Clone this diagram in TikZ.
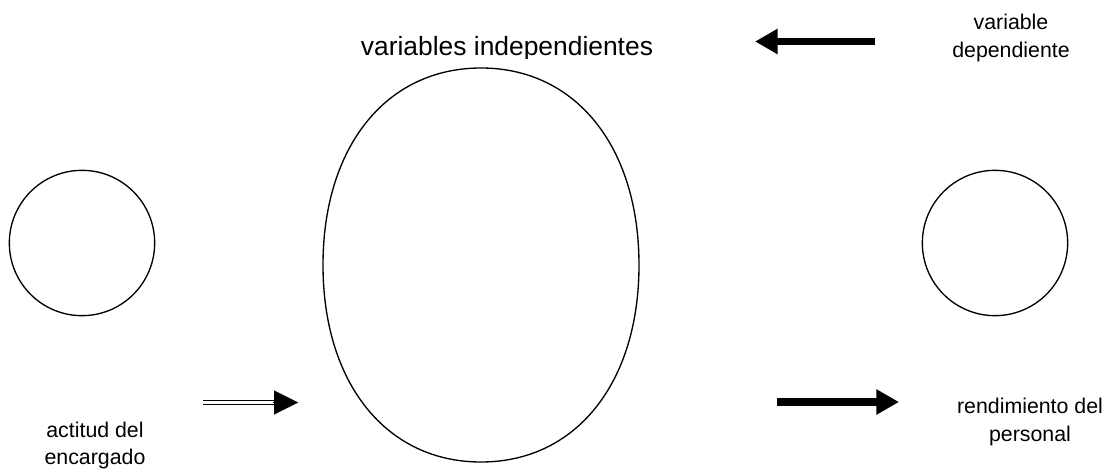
\documentclass[tikz,border=0pt]{standalone}
\usepackage{fontspec}
\setmainfont{Liberation Sans}
\usetikzlibrary{arrows.meta,shapes.geometric}
\begin{document}
\begin{tikzpicture}[x=0.75pt,y=-0.75pt,
  shape line/.style={draw=black,line width=1pt,inner sep=0pt},
  lbl/.style={anchor=base,inner sep=0pt,font=\fontsize{16}{19}\selectfont},
  thick arrow/.style={line width=5.8pt,-{Triangle[length=17pt,width=18pt]}},
  ]
\useasboundingbox (0,0) rectangle (1110,471);
% title (clipped at bottom like the reference)
\begin{scope}
\clip (0,0) rectangle (1110,58);
\node[anchor=base,inner sep=0pt,font=\fontsize{19.8}{23}\selectfont] (title) at (507,55) {variables independientes};
\end{scope}
% big oval (slightly fuller than a true ellipse)
\coordinate (bL) at (323,265);
\coordinate (bT) at (481,68);
\coordinate (bR) at (639,265);
\coordinate (bB) at (481,462);
\draw[line width=1pt] (bL) .. controls (323,147) and (386,68) .. (bT)
  .. controls (576,68) and (639,147) .. (bR)
  .. controls (639,383) and (576,462) .. (bB)
  .. controls (386,462) and (323,383) .. cycle;
% small circles
\node[shape line,circle,minimum size=109pt] (left) at (82,243) {};
\node[shape line,circle,minimum size=109pt] (right) at (995,243) {};
% labels
\node[lbl] (v1) at (1011,29) {variable};
\node[lbl] (v2) at (1011,57) {dependiente};
\node[lbl] (a1) at (95,437) {actitud del};
\node[lbl] (a2) at (95,464) {encargado};
\node[lbl] (r1) at (1030,413) {rendimiento del};
\node[lbl] (r2) at (1030,441) {personal};
% arrows
\coordinate (la) at (875,41.5);
\coordinate (lb) at (755,41.5);
\draw[thick arrow] (la) -- (lb);
\coordinate (ra) at (777,402);
\coordinate (rb) at (899,402);
\draw[thick arrow] (ra) -- (rb);
\coordinate (da) at (203,402.5);
\coordinate (db) at (298,402.5);
\coordinate (dm) at (276,402.5);
\draw[double=white,double distance=2.2pt,line width=1.1pt] (da) -- (dm);
\draw[line width=0.1pt,-{Triangle[length=18pt,width=18pt]}] ([xshift=-19pt]db) -- (db);
\end{tikzpicture}
\end{document}
